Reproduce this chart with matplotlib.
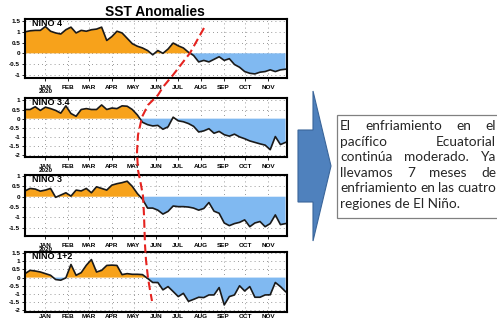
import numpy as np
import pandas as pd
import matplotlib
matplotlib.use('Agg')
import matplotlib.pyplot as plt
import matplotlib.dates as mdates
from matplotlib.patches import Polygon, Rectangle

# ---------------- data ----------------
weeks = pd.date_range('2019-12-04', periods=52, freq='7D')
month_ticks = pd.date_range('2020-01-01', periods=11, freq='MS')
month_labels = ['JAN\n2020', 'FEB', 'MAR', 'APR', 'MAY', 'JUN', 'JUL', 'AUG', 'SEP', 'OCT', 'NOV']
month_labels_short = ['JAN', 'FEB', 'MAR', 'APR', 'MAY', 'JUN', 'JUL', 'AUG', 'SEP', 'OCT', 'NOV']

nino4 = [1.00, 1.05, 1.07, 1.07, 1.25, 1.03, 0.95, 0.90, 1.10, 1.22, 0.95, 1.07, 1.03, 1.10, 1.13, 1.22,
         0.60, 0.78, 1.03, 0.95, 0.70, 0.45, 0.33, 0.25, 0.13, -0.07, 0.13, 0.00, 0.20, 0.48, 0.35, 0.25,
         0.05, -0.10, -0.40, -0.33, -0.40, -0.28, -0.16, -0.33, -0.25, -0.52, -0.65, -0.85, -0.93, -0.96,
         -0.88, -0.85, -0.77, -0.85, -0.77, -0.74]
nino34 = [0.50, 0.50, 0.65, 0.45, 0.63, 0.55, 0.45, 0.30, 0.70, 0.28, 0.13, 0.50, 0.55, 0.50, 0.50, 0.75,
          0.50, 0.58, 0.55, 0.70, 0.68, 0.50, 0.20, -0.20, -0.33, -0.40, -0.37, -0.58, -0.45, 0.08, -0.12,
          -0.17, -0.27, -0.42, -0.73, -0.67, -0.55, -0.80, -0.70, -0.88, -0.96, -0.85, -1.00, -1.10, -1.22,
          -1.30, -1.38, -1.45, -1.70, -0.98, -1.42, -1.30]
nino3 = [0.28, 0.40, 0.37, 0.27, 0.32, 0.40, -0.03, 0.08, 0.19, 0.03, 0.32, 0.28, 0.40, 0.19, 0.48, 0.40,
         0.32, 0.56, 0.63, 0.68, 0.75, 0.50, 0.15, -0.12, -0.55, -0.55, -0.65, -0.84, -0.71, -0.45, -0.48,
         -0.48, -0.50, -0.55, -0.65, -0.57, -0.28, -0.70, -0.80, -1.27, -1.40, -1.30, -1.24, -1.12, -1.45,
         -1.27, -1.20, -1.45, -1.30, -0.88, -1.35, -1.30]
nino12 = [0.24, 0.44, 0.40, 0.34, 0.24, 0.14, -0.12, -0.16, -0.02, 0.80, 0.14, 0.30, 0.75, 1.10, 0.34, 0.44,
          0.74, 0.76, 0.74, 0.18, 0.24, 0.20, 0.20, 0.18, -0.05, -0.30, -0.30, -0.75, -0.55, -0.85, -1.16,
          -0.96, -1.45, -1.33, -1.20, -1.22, -1.06, -1.06, -0.61, -1.67, -1.16, -1.06, -0.50, -0.82, -0.55,
          -1.20, -1.20, -1.06, -1.05, -0.30, -0.55, -0.86]

region_names = ['NINO 4', 'NINO 3.4', 'NINO 3', 'NINO 1+2']
region_series = [nino4, nino34, nino3, nino12]
region_yticks = [[-1, -0.5, 0, 0.5, 1, 1.5],
                 [-2, -1.5, -1, -0.5, 0, 0.5, 1],
                 [-1.5, -1, -0.5, 0, 0.5, 1],
                 [-2, -1.5, -1, -0.5, 0, 0.5, 1, 1.5]]
region_ylims = [(-1.15, 1.6), (-2.1, 1.13), (-1.9, 1.05), (-2.1, 1.56)]

title = 'SST Anomalies'
note_lines = ['El enfriamiento en el', 'pacífico Ecuatorial', 'continúa moderado. Ya',
              'llevamos 7 meses de', 'enfriamiento en las cuatro', 'regiones de El Niño.']

# ---------------- layout (pixels) ----------------
W, H = 497, 320
fig = plt.figure(figsize=(W / 100, H / 100), dpi=100)
fig.patch.set_facecolor('white')

def px_axes(left, top, right, bottom, **kw):
    return fig.add_axes([left / W, 1 - bottom / H, (right - left) / W, (bottom - top) / H], **kw)

panel_boxes = [(25, 19, 287, 78), (25, 98, 287, 157), (25, 175, 287, 236), (25, 252, 287, 312)]
ORANGE = '#F7A21B'
BLUE = '#80B9F1'
x = mdates.date2num(weeks)
xlim = (mdates.date2num(pd.Timestamp('2019-12-04')), mdates.date2num(pd.Timestamp('2020-11-27')))
tick_font = dict(family=['Liberation Sans Narrow', 'Liberation Sans'], weight='bold', size=4.6)

for idx, (box, name, vals, yt, yl) in enumerate(zip(panel_boxes, region_names, region_series,
                                                     region_yticks, region_ylims)):
    ax = px_axes(*box)
    v = np.array(vals)
    ax.fill_between(x, v, 0, where=v >= 0, interpolate=True, color=ORANGE, lw=0, zorder=2)
    ax.fill_between(x, v, 0, where=v <= 0, interpolate=True, color=BLUE, lw=0, zorder=2)
    ax.plot(x, v, color='#1a1a1a', lw=1.2, zorder=3)
    ax.set_xlim(*xlim)
    ax.set_ylim(*yl)
    ax.set_yticks(yt)
    ax.set_yticklabels([f'{t:g}' for t in yt], fontdict=tick_font)
    ax.set_xticks(mdates.date2num(month_ticks))
    last = idx == len(panel_boxes) - 1
    ax.set_xticklabels(month_labels_short if last else month_labels, fontdict=tick_font, linespacing=0.85)
    ax.tick_params(axis='both', length=2, width=0.6, pad=1.5, direction='out')
    ax.tick_params(axis='x', pad=0.3 if last else 3, length=1 if last else 2)
    ax.grid(True, linestyle=(0, (1, 4)), color='#777777', lw=0.6, zorder=1)
    ax.set_axisbelow(True)
    for s in ax.spines.values():
        s.set_linewidth(1.5)
        s.set_zorder(5)
    ax.text(0.027, 0.93, name, transform=ax.transAxes, ha='left', va='center',
            family='Liberation Sans', weight='bold', size=6.5, zorder=6)

# ---------------- overlay (annotations) ----------------
ov = fig.add_axes([0, 0, 1, 1], zorder=20)
ov.set_xlim(0, W)
ov.set_ylim(H, 0)
ov.axis('off')
ov.patch.set_alpha(0)

ov.text(155, 12, title, ha='center', va='center', family='Liberation Sans', weight='bold', size=9.9)

# red dashed onset curve (annotation path in pixel coords)
onset_x = [204, 190, 173, 163, 158, 148, 142, 138, 137, 138, 141, 143, 144, 145, 146, 148, 150, 152]
onset_y = [28, 53, 75, 87, 95, 105, 117, 135, 152, 170, 185, 196, 215, 245, 260, 278, 290, 301]
ov.plot(onset_x, onset_y, color='#E5231F', lw=1.5, linestyle=(0, (4, 2)), solid_capstyle='butt')

# block arrow
arrow_pts = [(298, 130), (313, 130), (313, 91), (331, 166), (313, 241), (313, 202), (298, 202)]
ov.add_patch(Polygon(arrow_pts, closed=True, facecolor='#4F81BD', edgecolor='#3A659A', lw=0.8))

# text box
ov.add_patch(Rectangle((337, 115), 170, 103, facecolor='white', edgecolor='#808080', lw=0.9))

fig.canvas.draw()
renderer = fig.canvas.get_renderer()
x_left, x_right = 340, 496
fam = 'Lato'
probe = ov.text(0, 0, note_lines[4], fontsize=10, family=fam)
w = probe.get_window_extent(renderer).width
probe.remove()
fs = 10 * (x_right - x_left) / w

baseline0, step = 130, 15.6
TXT = '#262626'
for k, line in enumerate(note_lines):
    yb = baseline0 + k * step
    if k == len(note_lines) - 1:
        ov.text(x_left, yb, line, fontsize=fs, family=fam, ha='left', va='baseline', color=TXT)
        continue
    words = line.split()
    ts = [ov.text(0, yb, wd, fontsize=fs, family=fam, ha='left', va='baseline', color=TXT) for wd in words]
    widths = [t.get_window_extent(renderer).width for t in ts]
    gap = (x_right - x_left - sum(widths)) / (len(words) - 1)
    cx = x_left
    for t, wd in zip(ts, widths):
        t.set_x(cx)
        cx += wd + gap

fig.savefig('out.png', dpi=100, facecolor='white')
